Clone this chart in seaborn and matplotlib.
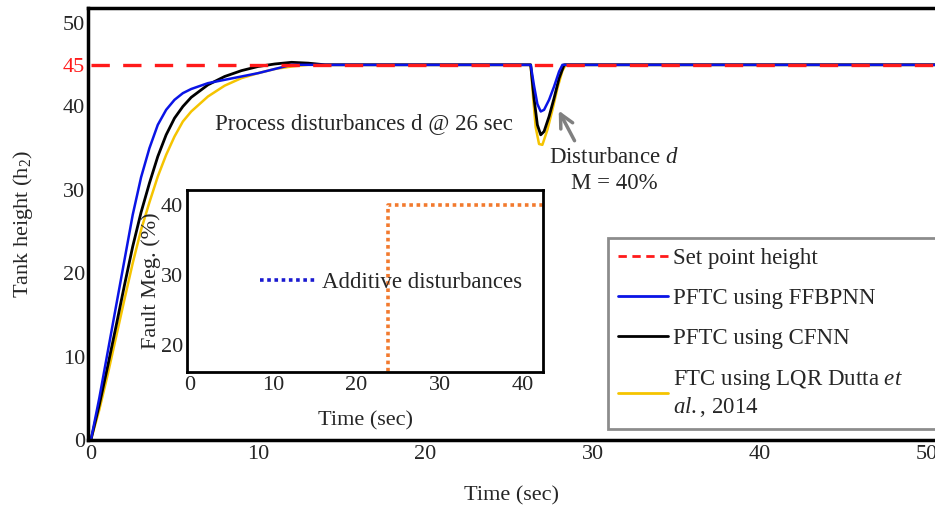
import pandas as pd
import matplotlib
matplotlib.use("Agg")
import matplotlib.pyplot as plt
from matplotlib.lines import Line2D
import seaborn as sns

# ==============================================================================
# 1. VALUES
# ==============================================================================
setpoint_time = [0, 50.5]
setpoint_height = [45, 45]

ffbpnn_time = [0, 0.5, 1, 1.5, 2, 2.5, 3, 3.5, 4, 4.5, 5, 5.5, 6, 7, 8, 9, 10, 11, 12, 13,
               26.3, 26.5, 26.7, 26.9, 27.1, 27.4, 27.7, 28.0, 28.2, 50.5]
ffbpnn_height = [0, 5, 10.5, 16, 21.5, 27, 31.5, 35, 37.8, 39.6, 40.8, 41.6, 42.1, 42.8, 43.2, 43.6, 44.0, 44.5, 45, 45,
                 45, 42.5, 40.3, 39.4, 39.6, 40.8, 42.4, 44.2, 45, 45]

cfnn_time = [0, 0.5, 1, 1.5, 2, 2.5, 3, 3.5, 4, 4.5, 5, 5.5, 6, 7, 8, 9, 10, 11, 12, 13, 14,
             26.3, 26.5, 26.7, 26.9, 27.1, 27.4, 27.7, 28.0, 28.3, 50.5]
cfnn_height = [0, 4.2, 8.8, 13.6, 18.5, 23.2, 27.3, 30.8, 34, 36.6, 38.6, 40, 41.1, 42.6, 43.6, 44.3, 44.8, 45.1, 45.3, 45.2, 45.0,
               45, 41, 37.8, 36.6, 37, 38.8, 41, 43.4, 45, 45]

lqr_time = [0, 0.5, 1, 1.5, 2, 2.5, 3, 3.5, 4, 4.5, 5, 5.5, 6, 7, 8, 9, 10, 11, 12, 13, 14,
            26.3, 26.45, 26.6, 26.8, 27.0, 27.3, 27.6, 27.9, 28.2, 28.4, 50.5]
lqr_height = [0, 3.6, 7.8, 12.3, 16.8, 21.2, 25.2, 28.5, 31.6, 34.2, 36.4, 38.2, 39.4, 41.2, 42.5, 43.4, 44.0, 44.5, 44.8, 45, 45,
              45, 41, 37.5, 35.5, 35.4, 37.2, 39.6, 42.2, 44.3, 45, 45]

# inset: fault magnitude (%)
fault_time = [0, 23.8, 23.8, 42.4]
fault_mag = [0, 0, 40, 40]

y_ticks = [0, 10, 20, 30, 40, 45, 50]
x_ticks = [0, 10, 20, 30, 40, 50]
inset_x_ticks = [0, 10, 20, 30, 40]
inset_y_ticks = [20, 30, 40]

# ==============================================================================
# 2. STYLE
# ==============================================================================
sns.set_theme(style="white")
plt.rcParams['font.family'] = ['Liberation Serif', 'DejaVu Serif']
plt.rcParams['mathtext.fontset'] = 'custom'
plt.rcParams['mathtext.rm'] = 'Liberation Serif'
plt.rcParams['mathtext.it'] = 'Liberation Serif:italic'
plt.rcParams['font.size'] = 16

fig = plt.figure(figsize=(9.35, 5.08), dpi=100)
ax = fig.add_axes([0.094, 0.134, 0.906, 0.850])

# ==============================================================================
# 3. MAIN RESPONSE CURVES
# ==============================================================================
sns.lineplot(x=lqr_time, y=lqr_height, ax=ax, color='#f5c400', linewidth=1.8,
             estimator=None, sort=False)
sns.lineplot(x=cfnn_time, y=cfnn_height, ax=ax, color='black', linewidth=2.0,
             estimator=None, sort=False)
sns.lineplot(x=ffbpnn_time, y=ffbpnn_height, ax=ax, color='#0a14e6', linewidth=1.8,
             estimator=None, sort=False)
sns.lineplot(x=setpoint_time, y=setpoint_height, ax=ax, color='#ff1a1a', linewidth=2.4,
             estimator=None, sort=False, dashes=False)
ax.lines[-1].set_dashes((5.5, 4))

ax.set_xlim(-0.18, 50.48)
ax.set_ylim(0, 51.8)
ax.set_xticks(x_ticks)
ax.set_yticks(y_ticks)
ax.tick_params(direction='in', length=8, width=2, labelsize=16, pad=4)
ax.tick_params(axis='y', pad=2)
for lbl in ax.get_yticklabels():
    if lbl.get_text() == '45':
        lbl.set_color('#ff1a1a')
for side in ['left', 'bottom', 'top']:
    ax.spines[side].set_linewidth(2.5)
    ax.spines[side].set_color('black')
ax.spines['right'].set_visible(False)

ax.set_xlabel('Time (sec)', fontsize=16, labelpad=16)
ax.set_ylabel('Tank height (h$_2$)', fontsize=16, labelpad=20)

# annotations
ax.text(7.4, 38.0, 'Process disturbances d @ 26 sec', fontsize=16.5, ha='left', va='center')
ax.text(31.3, 32.3, 'Disturbance $d$\nM = 40%', fontsize=16.5, ha='center', va='center',
        multialignment='center', linespacing=1.35)
ax.annotate('', xy=(27.9, 39.8), xytext=(29.0, 35.6),
            arrowprops=dict(arrowstyle='->', color='gray', lw=2.5, mutation_scale=24))

# main legend
handles = [
    Line2D([], [], color='#ff1a1a', linewidth=2, dashes=(3, 2)),
    Line2D([], [], color='#0a14e6', linewidth=2),
    Line2D([], [], color='black', linewidth=2),
    Line2D([], [], color='#f5c400', linewidth=2),
]
labels = ['Set point height', 'PFTC using FFBPNN', 'PFTC using CFNN',
          'FTC using LQR Dutta $et$\n$al.$, 2014']
leg = fig.legend(handles, labels, loc='upper left', bbox_to_anchor=(0.650, 0.532, 0.40, 0.0),
                 mode='expand', fontsize=16.5, frameon=True, fancybox=False,
                 handlelength=2.2, handletextpad=0.2, labelspacing=0.82,
                 borderpad=0.45, borderaxespad=0)
leg.get_frame().set_edgecolor('#707070')
leg.get_frame().set_linewidth(2)

# ==============================================================================
# 4. INSET: FAULT MAGNITUDE
# ==============================================================================
inset = fig.add_axes([0.200, 0.268, 0.381, 0.358])
inset.set_facecolor('white')
sns.lineplot(x=fault_time, y=fault_mag, ax=inset, color='#f27a2e', linewidth=2.6,
             estimator=None, sort=False)
inset.lines[-1].set_linestyle((0, (1, 1)))
inset.set_xlim(-0.36, 42.4)
inset.set_ylim(16.1, 42.1)
inset.set_xticks(inset_x_ticks)
inset.set_yticks(inset_y_ticks)
inset.tick_params(direction='in', length=7, width=2, labelsize=16, pad=3)
for side in inset.spines.values():
    side.set_linewidth(2)
    side.set_color('black')
inset.set_xlabel('Time (sec)', fontsize=16, labelpad=12)
inset.set_ylabel('Fault Meg. (%)', fontsize=16, labelpad=0)

ileg = inset.legend([Line2D([], [], color='#1a1ad0', linewidth=2.6, linestyle=(0, (1, 1)))],
                    ['Additive disturbances'], loc='lower left',
                    bbox_to_anchor=(0.19, 0.40, 0.80, 0.20), mode='expand',
                    fontsize=16.5, frameon=True, fancybox=False, handlelength=2.4,
                    handletextpad=0.3, borderpad=0.25, borderaxespad=0, framealpha=0)
ileg.get_frame().set_edgecolor('#707070')
ileg.get_frame().set_linewidth(2)

plt.savefig('out.png', dpi=100)
